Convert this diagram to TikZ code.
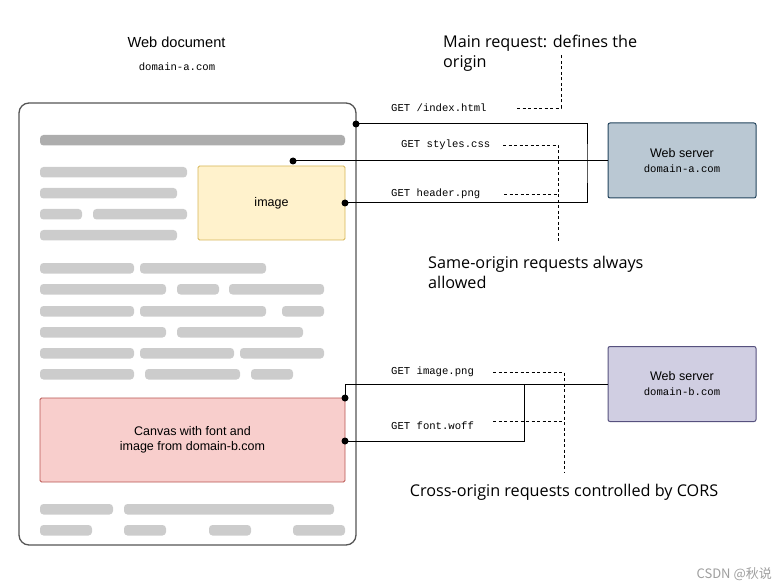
\documentclass[tikz,border=0pt]{standalone}
\usepackage{fontspec}
\setmainfont{Liberation Sans}
\newfontfamily\annfont{Open Sans}
\newfontfamily\monofont{Liberation Mono}
\newfontfamily\cjkfont{Noto Sans CJK SC}
\definecolor{bardark}{HTML}{ADADAD}
\definecolor{barlight}{HTML}{CCCCCC}
\definecolor{framecol}{HTML}{555555}
\definecolor{imgfill}{HTML}{FFF2CC}
\definecolor{imgdraw}{HTML}{D6B656}
\definecolor{canfill}{HTML}{F8CECC}
\definecolor{candraw}{HTML}{B85450}
\definecolor{safill}{HTML}{BAC8D3}
\definecolor{sadraw}{HTML}{23445D}
\definecolor{sbfill}{HTML}{D0CEE2}
\definecolor{sbdraw}{HTML}{56517E}
\tikzset{
  bar/.style={fill=barlight, rounded corners=3.5pt},
  topbar/.style={fill=bardark, rounded corners=3.5pt},
  boxtext/.style={font=\fontsize{12.5}{15.5}\selectfont, align=center, inner sep=0pt},
  server/.style={draw, line width=1pt, rounded corners=2pt, minimum width=148pt, minimum height=75pt, inner sep=0pt, align=center, font=\fontsize{12.5}{16}\selectfont},
  getlbl/.style={font=\monofont\fontsize{10.6}{12}\selectfont, anchor=west, inner sep=0pt},
  ann/.style={font=\annfont\fontsize{16.2}{20}\selectfont, align=left, inner sep=0pt},
  dotn/.style={circle, fill=black, inner sep=0pt, minimum size=7pt},
  conn/.style={line width=1pt, black},
  annline/.style={line width=0.9pt, dash pattern=on 3pt off 2.5pt},
}
\newcommand{\mono}[1]{{\monofont\fontsize{10.6}{12}\selectfont #1}}
\begin{document}
\begin{tikzpicture}[x=1pt,y=-1pt]
\useasboundingbox (0,0) rectangle (779,588);
% document frame
\node[draw=framecol, line width=1.3pt, rounded corners=10pt, minimum width=337pt, minimum height=442pt, inner sep=0pt] (doc) at (187.5,324) {};
\node[font=\fontsize{14.6}{16}\selectfont, inner sep=0pt] (doctitle) at (176.5,42) {Web document};
\node[inner sep=0pt] (docdomain) at (177,67) {\mono{domain-a.com}};
% placeholder bars
\fill[topbar] (40,135) rectangle (345,145.5);
\foreach \xa/\xb/\yy in {40/187/167, 40/177/188, 40/82/209, 93/187/209, 40/177/230,
  40/134/263, 140/266/263,
  40/166/284, 177/219/284, 229/324/284,
  40/134/306, 140/266/306, 282/324/306,
  40/166/327, 177/303/327,
  40/134/348, 140/234/348, 240/324/348,
  40/134/369, 145/240/369, 251/293/369,
  40/113/504, 124/334/504,
  40/92/525, 124/166/525, 209/251/525, 293/345/525}
  \fill[bar] (\xa,\yy) rectangle (\xb,\yy+10.5);
% image and canvas
\node[draw=imgdraw, fill=imgfill, line width=0.9pt, rounded corners=1.5pt, minimum width=147pt, minimum height=74pt, inner sep=0pt, boxtext] (img) at (271.5,203) {image};
\node[draw=candraw, fill=canfill, line width=0.9pt, rounded corners=1.5pt, minimum width=305pt, minimum height=84pt, inner sep=0pt, boxtext] (canvas) at (192.5,440) {Canvas with font and\\image from domain-b.com};
% servers
\node[server, draw=sadraw, fill=safill] (srvA) at (682,160.5) {Web server\\[-1pt]\mono{domain-a.com}};
\node[server, draw=sbdraw, fill=sbfill] (srvB) at (682,384) {Web server\\[-1pt]\mono{domain-b.com}};
% dots
\node[dotn] (d1) at (356,124) {};
\node[dotn] (d2) at (293,161) {};
\node[dotn] (d3) at (345,203) {};
\node[dotn] (d4) at (345,398) {};
\node[dotn] (d5) at (345,441) {};
\coordinate (cA) at (587,164);
\coordinate (cB) at (524,384);
% connectors
\draw[conn] (d1.center) -| (cA) |- (d3.center);
\draw[conn] (d2.center) -- (d2 -| srvA.west);
\draw[conn] (d4.center) |- (srvB.west);
\draw[conn] (d5.center) -| (cB);
% request labels
\node[getlbl] (g1) at (391,108) {GET /index.html};
\node[getlbl] (g2) at (401,145) {GET styles.css};
\node[getlbl] (g3) at (391,194) {GET header.png};
\node[getlbl] (g4) at (391,372) {GET image.png};
\node[getlbl] (g5) at (391,426) {GET font.woff};
% annotations
\node[ann, anchor=west] (annA) at (443,53) {Main request: defines the\\origin};
\node[ann, anchor=west] (annS) at (428,272) {Same-origin requests always\\allowed};
\node[ann] (annC) at (564,492) {Cross-origin requests controlled by CORS};
\coordinate (a1s) at (517,108);
\coordinate (a1c) at (561,108);
\coordinate (a1e) at (561,54);
\coordinate (s1) at (503,145);
\coordinate (s1c) at (558,145);
\coordinate (s2) at (504,194);
\coordinate (s2c) at (558,194);
\coordinate (sE) at (558,242);
\coordinate (c1) at (493,372);
\coordinate (c1c) at (564,372);
\coordinate (c2) at (493,421);
\coordinate (c2c) at (564,421);
\coordinate (cE) at (564,472);
\draw[annline] (a1s) -- (a1c) -- (a1e);
\draw[annline] (s1) -- (s1c) -- (sE);
\draw[annline] (s2) -- (s2c);
\draw[annline] (c1) -- (c1c) -- (cE);
\draw[annline] (c2) -- (c2c);
% watermark
\node[font=\cjkfont\fontsize{13}{14}\selectfont, text=black!38, anchor=east, inner sep=0pt] (wm) at (772,574) {CSDN @秋说};
\end{tikzpicture}
\end{document}
